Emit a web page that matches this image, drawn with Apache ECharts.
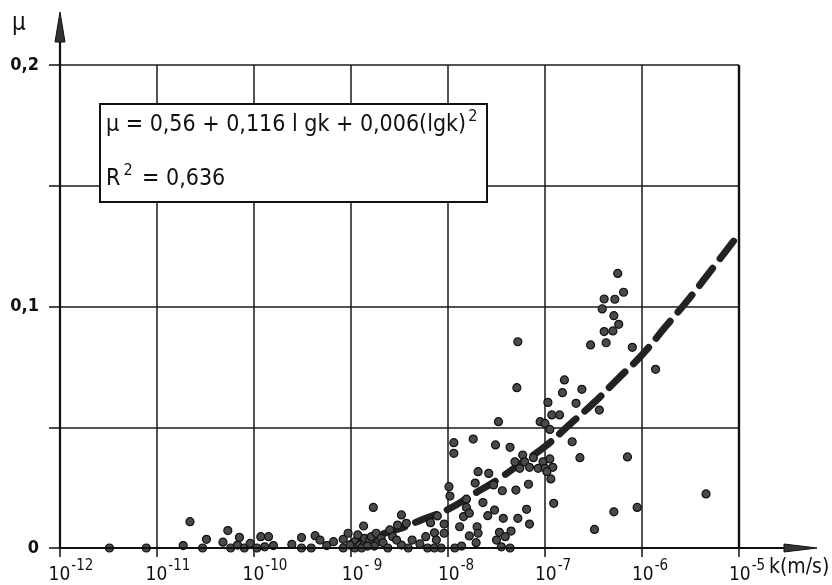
<!DOCTYPE html>
<html><head><meta charset="utf-8">
<script src="https://cdn.jsdelivr.net/npm/echarts@6/dist/echarts.min.js"></script>
<style>html,body{margin:0;padding:0;background:#fff}#c{width:832px;height:585px}</style>
</head><body><div id="c"></div>
<script>
// x axis: decimal exponent of k (m/s); y axis: mu
const xTickExponents = [-12, -11, -10, -9, -8, -7, -6, -5];
const xTickSuper = ['-12', '-11', '-10', '- 9', '-8', '-7', '-6', '-5'];
const yTickValues = [0, 0.1, 0.2];
const yTickLabels = ['0', '0,1', '0,2'];

const lgK = [
  -11.49, -11.11, -10.73, -10.66, -10.53, -10.49, -10.32, -10.27, -10.24, -10.17,
  -10.15, -10.10, -10.04, -9.97, -9.93, -9.89, -9.85, -9.80, -9.61, -9.51,
  -9.51, -9.41, -9.37, -9.32, -9.25, -9.18, -9.08, -9.08, -9.03, -8.96,
  -8.96, -8.91, -8.86, -8.86, -8.81, -8.79, -8.74, -8.72, -8.69, -8.67,
  -8.76, -8.87, -8.77, -8.60, -8.57, -8.48, -8.52, -8.43, -8.62, -8.48,
  -8.41, -8.37, -8.29, -8.23, -8.21, -8.18, -8.14, -8.12, -8.11, -8.14,
  -8.93, -8.89, -8.83, -9.01, -8.53, -8.04, -8.04, -8.07, -7.99, -7.98,
  -7.94, -7.94, -7.93, -7.88, -7.86, -7.84, -7.81, -7.81, -7.78, -7.78,
  -7.74, -7.72, -7.71, -7.70, -7.69, -7.69, -7.64, -7.59, -7.58, -7.53,
  -7.52, -7.51, -7.50, -7.48, -7.47, -7.45, -7.44, -7.43, -7.41, -7.36,
  -7.36, -7.35, -7.30, -7.28, -7.29, -7.28, -7.19, -7.16, -7.17, -7.31,
  -7.23, -7.21, -7.12, -7.26, -7.16, -7.07, -7.02, -6.95, -7.00, -6.92,
  -6.94, -7.05, -7.00, -6.95, -6.97, -6.93, -6.85, -6.82, -6.80, -6.91,
  -6.72, -6.68, -6.64, -6.62, -6.53, -6.49, -6.44, -6.41, -6.39, -6.39,
  -6.37, -6.30, -6.29, -6.28, -6.29, -6.25, -6.24, -6.19, -6.15, -6.10,
  -6.05, -5.86, -5.34, -6.98
];
const mu = [
  0, 0, 0.001, 0.0109, 0, 0.0036, 0.0024, 0.0072, 0, 0.0012,
  0.0044, 0, 0.0019, 0, 0.0047, 0.0005, 0.0047, 0.001, 0.0015, 0.0043,
  0, 0, 0.0051, 0.0033, 0.001, 0.0026, 0.0036, 0, 0.0061, 0.0026,
  0, 0.0012, 0.0019, 0.004, 0.0033, 0.0047, 0.0061, 0.0026, 0.004, 0.0022,
  0.0008, 0.0091, 0.0168, 0.0075, 0.0047, 0.0137, 0.0095, 0.0102, 0, 0.0012,
  0, 0.0033, 0.0017, 0.0047, 0, 0.0105, 0.0063, 0.0033, 0.0133, 0,
  0.0054, 0, 0.0008, 0.0012, 0.0033, 0.0099, 0.0061, 0, 0.0254, 0.0215,
  0.0436, 0.0392, 0, 0.0088, 0.0008, 0.013, 0.0202, 0.0168, 0.0144, 0.005,
  0.0451, 0.0269, 0.0022, 0.0088, 0.0061, 0.0316, 0.0188, 0.0134, 0.0309, 0.0261,
  0.0157, 0.0427, 0.0033, 0.0523, 0.0065, 0.0005, 0.0237, 0.0123, 0.0047, 0,
  0.0417, 0.007, 0.024, 0.0854, 0.0664, 0.0123, 0.016, 0.0099, 0.0264, 0.0357,
  0.0385, 0.0357, 0.0374, 0.033, 0.0334, 0.033, 0.0357, 0.0369, 0.033, 0.0334,
  0.0286, 0.0523, 0.0516, 0.0491, 0.0603, 0.0551, 0.0551, 0.0643, 0.0696, 0.0185,
  0.044, 0.0599, 0.0374, 0.0657, 0.0841, 0.0077, 0.0571, 0.099, 0.1031, 0.0896,
  0.085, 0.0899, 0.0962, 0.103, 0.015, 0.1137, 0.0926, 0.1059, 0.0377, 0.0831,
  0.0168, 0.074, 0.0224, 0.0316
];

// fitted curve
const fitLgK = [-9, -8.75, -8.5, -8.25, -8, -7.75, -7.5, -7.25, -7, -6.75, -6.5, -6.25, -6, -5.75, -5.5, -5.25, -5];
const fitMu  = [0.002, 0.005, 0.008, 0.012, 0.016, 0.022, 0.028, 0.035, 0.042, 0.051, 0.060, 0.070, 0.080, 0.092, 0.104, 0.117, 0.130];

const FONT = "'DejaVu Sans Condensed','Liberation Sans Narrow','DejaVu Sans',sans-serif";
const INK = '#111';

const scatterData = lgK.map((x, i) => [x, mu[i]]);
const fitData = fitLgK.map((x, i) => [x, fitMu[i]]);

const chart = echarts.init(document.getElementById('c'), null, {renderer: 'canvas'});

const GL = 60, GT = 65, GR = 93, GB = 37;
const X0 = GL, Y0 = 585 - GB;

chart.setOption({
  animation: false,
  backgroundColor: '#fff',
  grid: {left: GL, right: GR, top: GT, bottom: GB, containLabel: false},
  xAxis: {
    type: 'value', min: -12, max: -5, interval: 1,
    axisLine: {show: false},
    axisTick: {show: true, length: 9, lineStyle: {color: INK, width: 1.5}},
    splitLine: {show: true, lineStyle: {color: '#1a1a1a', width: 1.5}},
    axisLabel: {
      margin: 11,
      formatter: function (v) {
        const i = xTickExponents.indexOf(Math.round(v));
        if (i < 0) return '';
        const s = xTickSuper[i];
        const sp = s.length >= 3 ? 'sp3' : 'sp2';
        return '{' + sp + '|\u00a0}{b|10}{e|' + s + '}';
      },
      rich: {
        b: {fontFamily: FONT, fontSize: 19, color: INK, lineHeight: 20, verticalAlign: 'bottom'},
        e: {fontFamily: FONT, fontSize: 15, color: INK, verticalAlign: 'top', padding: [0, 0, 11, 1]},
        sp3: {fontSize: 10, width: 22},
        sp2: {fontSize: 10, width: 16}
      }
    }
  },
  yAxis: {
    type: 'value', min: 0, max: 0.2, interval: 0.05,
    axisLine: {show: false},
    axisTick: {show: true, length: 11, lineStyle: {color: INK, width: 1.5}},
    splitLine: {show: true, lineStyle: {color: '#1a1a1a', width: 1.5}},
    axisLabel: {
      margin: 21,
      fontFamily: FONT, fontSize: 18, fontWeight: 'bold', color: INK,
      formatter: function (v) {
        for (let i = 0; i < yTickValues.length; i++) {
          if (Math.abs(v - yTickValues[i]) < 1e-9) return yTickLabels[i];
        }
        return '';
      }
    }
  },
  series: [
    {
      type: 'line', data: fitData, smooth: true, showSymbol: false, z: 3,
      lineStyle: {color: '#222', width: 7, type: [22, 12], cap: 'round'}
    },
    {
      type: 'scatter', data: scatterData, symbol: 'circle', symbolSize: 8, z: 4,
      itemStyle: {color: '#4a4a4a', borderColor: '#111', borderWidth: 1.2, opacity: 1}
    }
  ],
  graphic: [
    // axes with arrows
    {type: 'line', z: 50, shape: {x1: X0, y1: Y0, x2: 790, y2: Y0}, style: {stroke: INK, lineWidth: 2.2}},
    {type: 'polygon', z: 50, shape: {points: [[784, Y0 - 4], [817, Y0], [784, Y0 + 4]]}, style: {fill: '#333', stroke: INK, lineWidth: 1}},
    {type: 'line', z: 50, shape: {x1: X0, y1: Y0 + 1, x2: X0, y2: 38}, style: {stroke: INK, lineWidth: 2.2}},
    {type: 'polygon', z: 50, shape: {points: [[X0 - 5, 42], [X0, 12], [X0 + 5, 42]]}, style: {fill: '#333', stroke: INK, lineWidth: 1}},
    // right border (10^-5) slightly heavier
    {type: 'line', z: 50, shape: {x1: 739, y1: GT, x2: 739, y2: Y0}, style: {stroke: INK, lineWidth: 2.4}},
    // axis titles
    {type: 'text', z: 50, left: 12, top: 12, style: {text: 'μ', font: '24px ' + FONT, fill: INK}},
    {type: 'text', z: 50, left: 769, top: 557, style: {text: 'k(m/s)', font: '21px ' + FONT, fill: INK}},
    // equation box
    {type: 'rect', z: 60, shape: {x: 100, y: 104, width: 387, height: 98}, style: {fill: '#fff', stroke: INK, lineWidth: 2}},
    {type: 'text', z: 61, left: 106, top: 109, style: {
      text: '{m|μ = 0,56 + 0,116 l gk + 0,006(lgk)}{s|2}',
      rich: {
        m: {font: '23px ' + FONT, fill: INK, lineHeight: 26, verticalAlign: 'bottom'},
        s: {font: '16px ' + FONT, fill: INK, verticalAlign: 'top', padding: [0, 0, 12, 2]}
      }
    }},
    {type: 'text', z: 61, left: 106, top: 163, style: {
      text: '{m|R}{s|2}{m| = 0,636}',
      rich: {
        m: {font: '23px ' + FONT, fill: INK, lineHeight: 26, verticalAlign: 'bottom'},
        s: {font: '16px ' + FONT, fill: INK, verticalAlign: 'top', padding: [0, 3, 12, 3]}
      }
    }}
  ]
});
</script>
</body></html>
